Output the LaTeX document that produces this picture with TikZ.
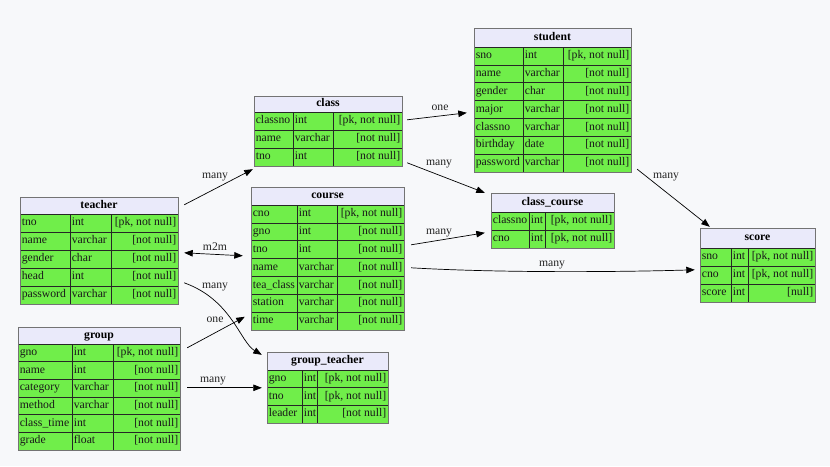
\documentclass[tikz,border=0pt]{standalone}
\usepackage{fontspec}
\setmainfont{Liberation Serif}
\usetikzlibrary{arrows.meta,calc,fit}
\definecolor{bg}{RGB}{247,248,250}
\definecolor{hdr}{RGB}{234,234,250}
\definecolor{grn}{RGB}{112,238,74}
\newcommand\pkc{[pk, not null]}
\newcommand\nnc{[not null]}
\newcommand\nuc{[null]}
\tikzset{
  cellst/.style={fill=grn, draw=black!85, line width=0.7pt},
  outerst/.style={draw=black!55, line width=1pt},
  txt/.style={inner sep=1.6pt, text height=8pt, text depth=2.5pt, text=black!90},
  ttl/.style={inner sep=0pt, font=\fontsize{11.7}{14}\selectfont\bfseries, text height=8pt, text depth=2.5pt},
  edge/.style={draw=black, line width=0.7pt, -{Triangle[length=8.5pt,width=6.5pt]}},
  biedge/.style={draw=black, line width=0.7pt, {Triangle[length=8.5pt,width=6.5pt]}-{Triangle[length=8.5pt,width=6.5pt]}},
  lbl/.style={inner sep=0pt, text=black!85}
}
% #1 name, #2 title, #3 x0, #4 x1, #5 x2, #6 x3, #7 ytop, #8 yhead, #9 ybottom; rows in \rows
\newcommand\dbtab[9]{%
  \foreach \r [count=\n] in \rows {\xdef\nrows{\n}}
  \pgfmathsetmacro\rh{(#9-#8)/\nrows}
  \fill[hdr] (#3,#7) rectangle (#6,#8);
  \node[ttl] at ({(#3+#6)/2},{(#7+#8)/2}) {#2};
  \foreach \a/\b/\c [count=\i] in \rows {
    \pgfmathsetmacro\ya{#8+(\i-1)*\rh}
    \pgfmathsetmacro\yb{#8+\i*\rh}
    \pgfmathsetmacro\ym{#8+(\i-0.5)*\rh}
    \filldraw[cellst] (#3,\ya) rectangle (#4,\yb);
    \filldraw[cellst] (#4,\ya) rectangle (#5,\yb);
    \filldraw[cellst] (#5,\ya) rectangle (#6,\yb);
    \node[txt,anchor=west] at (#3,\ym) {\a};
    \node[txt,anchor=west] at (#4,\ym) {\b};
    \node[txt,anchor=east] at (#6,\ym) {\c};
  }
  \draw[outerst] (#3,#7) rectangle (#6,#9);
  \node[fit={(#3,#7) (#6,#9)}, inner sep=0pt] (#1) {};
}
\begin{document}
\begin{tikzpicture}[x=1pt,y=-1pt,font=\fontsize{11.7}{14}\selectfont]
\path[use as bounding box, fill=bg] (0,0) rectangle (830,466);

\def\rows{tno/int/\pkc, name/varchar/\nnc, gender/char/\nnc, head/int/\nnc, password/varchar/\nnc}
\dbtab{teacher}{teacher}{20}{70}{111}{178}{197}{214}{304}

\def\rows{gno/int/\pkc, name/int/\nnc, category/varchar/\nnc, method/varchar/\nnc, class\_time/int/\nnc, grade/float/\nnc}
\dbtab{group}{group}{18}{72}{113}{180}{327}{344}{450}

\def\rows{classno/int/\pkc, name/varchar/\nnc, tno/int/\nnc}
\dbtab{class}{class}{254}{293}{333}{402}{96}{112}{166}

\def\rows{cno/int/\pkc, gno/int/\nnc, tno/int/\nnc, name/varchar/\nnc, tea\_class/varchar/\nnc, station/varchar/\nnc, time/varchar/\nnc}
\dbtab{course}{course}{251}{297}{337}{404}{187}{205}{330}

\def\rows{sno/int/\pkc, name/varchar/\nnc, gender/char/\nnc, major/varchar/\nnc, classno/varchar/\nnc, birthday/date/\nnc, password/varchar/\nnc}
\dbtab{student}{student}{474}{523}{563}{631}{28}{47}{172}

\def\rows{classno/int/\pkc, cno/int/\pkc}
\dbtab{cc}{class\_course}{491}{529}{545}{614}{193}{212}{248}

\def\rows{gno/int/\pkc, tno/int/\pkc, leader/int/\nnc}
\dbtab{gt}{group\_teacher}{267}{302}{317}{388}{352}{370}{423}

\def\rows{sno/int/\pkc, cno/int/\pkc, score/int/\nuc}
\dbtab{score}{score}{700}{731}{748}{815}{228}{248}{302}

% connectors
\draw[edge] ($(teacher.north east)+(6,8)$) -- ($(class.south west)+(-1,3)$);
\node[lbl] (l1) at (215,177) {many};
\draw[biedge] ($(teacher.north east)+(6,56)$) -- ($(course.north west)+(-8,69)$);
\node[lbl] (l2) at (215,247) {m2m};
\draw[edge] ($(class.north east)+(5,24)$) -- ($(student.north west)+(-7,85)$);
\node[lbl] (l3) at (440,108) {one};
\draw[edge] ($(class.north east)+(5,67)$) -- ($(cc.north west)+(-6,0)$);
\node[lbl] (l4) at (439,164) {many};
\draw[edge] ($(course.north east)+(7,58)$) -- ($(cc.north west)+(-6,40)$);
\node[lbl] (l5) at (439,233) {many};
\draw[edge] ($(course.north east)+(7,81)$) .. controls (500,273) and (620,272) .. ($(score.north west)+(-5,42)$);
\node[lbl] (l6) at (552,265) {many};
\draw[edge] ($(student.south east)+(6,-3)$) -- ($(score.north west)+(10,-1)$);
\node[lbl] (l7) at (666,177) {many};
\draw[edge] ($(teacher.north east)+(6,86)$) .. controls (232,300) and (240,342) .. ($(gt.north west)+(-5,3)$);
\node[lbl] (l8) at (215,287) {many};
\draw[edge] ($(group.north east)+(7,21)$) -- ($(course.north west)+(-6,130)$);
\node[lbl] (l9) at (215,320) {one};
\draw[edge] ($(group.north east)+(7,61)$) -- ($(gt.north west)+(-5,36)$);
\node[lbl] (l10) at (213,381) {many};
\end{tikzpicture}
\end{document}
